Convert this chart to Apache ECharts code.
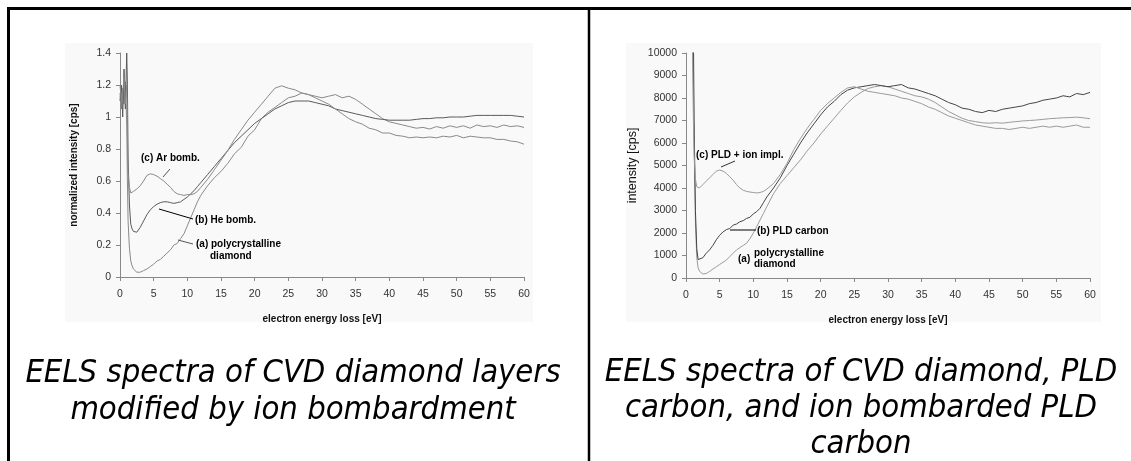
<!DOCTYPE html>
<html>
<head>
<meta charset="utf-8">
<script src="https://cdn.jsdelivr.net/npm/echarts@6/dist/echarts.min.js"></script>
<style>
  html, body { margin: 0; padding: 0; background: #fff; }
  #main { width: 1131px; height: 461px; }
</style>
</head>
<body>
<div id="main"></div>
<script>
// energy loss axis values (eV), left panel
var xLeft = [0, 0.2, 0.4, 0.6, 0.8, 1.0, 1.1, 1.2, 1.4, 1.6, 1.8, 2.0,
  2.5, 3, 3.5, 4, 4.5, 5, 5.5, 6, 6.5, 7, 7.5, 8, 8.5, 9, 9.5, 10, 10.5, 11, 11.5, 12,
  13, 14, 15, 16, 17, 18, 19, 20, 21, 22, 23, 24, 25, 26, 27, 28, 29, 30,
  31, 32, 33, 34, 35, 36, 37, 38, 39, 40, 41, 42, 43, 44, 45, 46, 47, 48, 49, 50,
  51, 52, 53, 54, 55, 56, 57, 58, 59, 60];

// (a) polycrystalline diamond
var leftA = [1.15, 1.05, 1.18, 1.08, 1.22, 0.95, 0.6, 0.35, 0.18, 0.1, 0.07, 0.05,
  0.03, 0.03, 0.04, 0.05, 0.065, 0.08, 0.1, 0.11, 0.13, 0.15, 0.17, 0.2, 0.21, 0.24, 0.27, 0.32, 0.37, 0.42, 0.47, 0.51,
  0.57, 0.62, 0.66, 0.71, 0.77, 0.81, 0.88, 0.92, 0.99, 1.03, 1.06, 1.09, 1.12, 1.13, 1.15, 1.14, 1.13, 1.12,
  1.13, 1.14, 1.12, 1.13, 1.11, 1.08, 1.05, 1.02, 0.99, 0.97, 0.96, 0.95, 0.94, 0.93, 0.935, 0.925, 0.94, 0.93, 0.945, 0.935,
  0.945, 0.93, 0.95, 0.94, 0.945, 0.935, 0.95, 0.94, 0.945, 0.935];

// (b) He bomb.
var leftB = [1.1, 1.2, 1.0, 1.3, 1.05, 1.4, 1.2, 0.75, 0.45, 0.33, 0.3, 0.285,
  0.28, 0.31, 0.35, 0.39, 0.42, 0.44, 0.455, 0.465, 0.47, 0.47, 0.465, 0.46, 0.465, 0.47, 0.485, 0.5, 0.52, 0.54, 0.565, 0.59,
  0.64, 0.69, 0.74, 0.79, 0.84, 0.88, 0.92, 0.96, 0.99, 1.02, 1.05, 1.07, 1.09, 1.1, 1.1, 1.1, 1.09, 1.08,
  1.07, 1.05, 1.04, 1.03, 1.02, 1.01, 1.0, 0.99, 0.985, 0.98, 0.98, 0.98, 0.98, 0.985, 0.99, 0.99, 0.995, 0.995, 1.0, 1.0,
  1.0, 1.005, 1.01, 1.01, 1.01, 1.01, 1.01, 1.01, 1.005, 1.0];

// (c) Ar bomb.
var leftC = [1.2, 1.1, 1.15, 1.25, 1.08, 1.2, 0.9, 0.65, 0.56, 0.525, 0.53, 0.535,
  0.55, 0.57, 0.6, 0.635, 0.645, 0.64, 0.63, 0.615, 0.6, 0.58, 0.56, 0.535, 0.52, 0.515, 0.51, 0.515, 0.515, 0.52, 0.535, 0.56,
  0.61, 0.67, 0.73, 0.79, 0.86, 0.92, 0.98, 1.03, 1.08, 1.13, 1.18, 1.195, 1.18, 1.17, 1.15, 1.14, 1.12, 1.1,
  1.08, 1.05, 1.02, 0.99, 0.97, 0.955, 0.93, 0.92, 0.9, 0.9, 0.885, 0.88, 0.87, 0.875, 0.87, 0.875, 0.87, 0.88, 0.875, 0.885,
  0.87, 0.88, 0.875, 0.87, 0.87, 0.86, 0.86, 0.85, 0.845, 0.83];

// energy loss axis values (eV), right panel
var xRight = [0.9, 1.0, 1.1, 1.2, 1.4, 1.6, 1.8, 2.0,
  2.5, 3, 3.5, 4, 4.5, 5, 5.5, 6, 6.5, 7, 7.5, 8, 8.5, 9, 9.5, 10, 10.5, 11, 11.5, 12,
  13, 14, 15, 16, 17, 18, 19, 20, 21, 22, 23, 24, 25, 26, 27, 28, 29, 30,
  31, 32, 33, 34, 35, 36, 37, 38, 39, 40, 41, 42, 43, 44, 45, 46, 47, 48, 49, 50,
  51, 52, 53, 54, 55, 56, 57, 58, 59, 60];

// (a) polycrystalline diamond
var rightA = [11000, 11000, 9000, 6000, 2500, 900, 450, 300,
  180, 200, 290, 400, 500, 600, 700, 800, 950, 1100, 1250, 1350, 1450, 1550, 1750, 2000, 2280, 2580, 2870, 3170,
  3750, 4200, 4550, 4900, 5250, 5650, 6000, 6400, 6750, 7100, 7450, 7780, 8050, 8250, 8420, 8500, 8550, 8500,
  8400, 8300, 8200, 8100, 8050, 7950, 7800, 7600, 7400, 7250, 7100, 7000, 6950, 6900, 6880, 6900, 6880, 6920, 6950, 6980,
  7000, 7020, 7050, 7080, 7100, 7120, 7130, 7150, 7120, 7080];

// (b) PLD carbon
var rightB = [12000, 12000, 11000, 7000, 3000, 1300, 820, 780,
  900, 1100, 1250, 1450, 1700, 1900, 2050, 2150, 2200, 2350, 2400, 2500, 2550, 2650, 2700, 2850, 2950, 3100, 3350, 3600,
  4000, 4450, 5000, 5500, 6000, 6450, 6850, 7250, 7600, 7850, 8150, 8350, 8450, 8500, 8550, 8600, 8550, 8500,
  8550, 8600, 8450, 8400, 8300, 8200, 8100, 7950, 7800, 7700, 7550, 7500, 7400, 7350, 7450, 7400, 7500, 7550, 7600, 7650,
  7750, 7800, 7900, 7950, 8000, 8100, 8050, 8200, 8150, 8250];

// (c) PLD + ion impl.
var rightC = [12000, 9000, 7000, 5500, 4400, 4050, 3980, 4000,
  4150, 4300, 4450, 4600, 4750, 4800, 4750, 4650, 4500, 4350, 4150, 4000, 3900, 3850, 3820, 3800, 3780, 3800, 3850, 3950,
  4200, 4600, 5100, 5700, 6200, 6650, 7050, 7450, 7750, 8000, 8250, 8450, 8500, 8400, 8300, 8250, 8200, 8150,
  8100, 8000, 7950, 7850, 7750, 7600, 7500, 7350, 7200, 7100, 7000, 6900, 6800, 6750, 6700, 6650, 6650, 6600, 6650, 6700,
  6650, 6700, 6750, 6700, 6750, 6700, 6750, 6800, 6700, 6700];

function pairs(xs, ys) {
  return xs.map(function (x, i) { return [x, ys[i]]; });
}

var chart = echarts.init(document.getElementById('main'));

var tickFont = { color: '#333', fontSize: 10.5, fontFamily: 'Liberation Sans, Arial, sans-serif' };
var nameFont = { color: '#111', fontSize: 10, fontWeight: 'bold', fontFamily: 'Liberation Sans, Arial, sans-serif' };
var axisGrey = { lineStyle: { color: '#888', width: 1 } };

function xAxisFor(idx) {
  return {
    type: 'value', gridIndex: idx, min: 0, max: 60, interval: 5,
    name: 'electron energy loss [eV]', nameLocation: 'middle', nameGap: 37,
    nameTextStyle: nameFont,
    axisLine: axisGrey, axisTick: { lineStyle: { color: '#888' }, length: 4 },
    axisLabel: Object.assign({ margin: 12 }, tickFont),
    splitLine: { show: false }
  };
}

function lineSeries(name, xi, data, color) {
  return {
    name: name, type: 'line', xAxisIndex: xi, yAxisIndex: xi,
    data: data, showSymbol: false, symbol: 'none',
    lineStyle: { color: color, width: 1 }, clip: true
  };
}

var annoFont = 'bold 10px "Liberation Sans", Arial, sans-serif';
function label(x, y, text) {
  return { type: 'text', x: x, y: y, z: 100, style: { text: text, font: annoFont, fill: '#000', textVerticalAlign: 'middle' } };
}
function leader(x1, y1, x2, y2, color) {
  return { type: 'line', z: 100, shape: { x1: x1, y1: y1, x2: x2, y2: y2 }, style: { stroke: color, lineWidth: 1 } };
}

var captionFont = 'italic 32.5px "DejaVu Sans Condensed", "DejaVu Sans", Verdana, sans-serif';

var option = {
  animation: false,
  backgroundColor: '#fff',
  grid: [
    { left: 120, top: 53, width: 404, height: 224 },
    { left: 686, top: 53, width: 404, height: 225 }
  ],
  xAxis: [xAxisFor(0), xAxisFor(1)],
  yAxis: [
    {
      type: 'value', gridIndex: 0, min: 0, max: 1.4, interval: 0.2,
      name: 'normalized intensity [cps]', nameLocation: 'middle', nameGap: 41,
      nameTextStyle: nameFont,
      axisLine: { show: true, lineStyle: { color: '#888' } },
      axisTick: { show: true, lineStyle: { color: '#888' }, length: 4 },
      axisLabel: Object.assign({ margin: 9 }, tickFont),
      splitLine: { show: false }
    },
    {
      type: 'value', gridIndex: 1, min: 0, max: 10000, interval: 1000,
      name: 'intensity [cps]', nameLocation: 'middle', nameGap: 47,
      nameTextStyle: { color: '#111', fontSize: 12.5, fontFamily: 'Liberation Sans, Arial, sans-serif' },
      axisLine: { show: true, lineStyle: { color: '#888' } },
      axisTick: { show: true, lineStyle: { color: '#888' }, length: 4 },
      axisLabel: Object.assign({ margin: 9, formatter: function (v) { return String(v); } }, tickFont),
      splitLine: { show: false }
    }
  ],
  series: [
    lineSeries('(a) polycrystalline diamond', 0, pairs(xLeft, leftA), '#8a8a8a'),
    lineSeries('(b) He bomb.', 0, pairs(xLeft, leftB), '#5a5a5a'),
    lineSeries('(c) Ar bomb.', 0, pairs(xLeft, leftC), '#8a8a8a'),
    lineSeries('(a) polycrystalline diamond', 1, pairs(xRight, rightA), '#9a9a9a'),
    lineSeries('(b) PLD carbon', 1, pairs(xRight, rightB), '#454545'),
    lineSeries('(c) PLD + ion impl.', 1, pairs(xRight, rightC), '#9a9a9a')
  ],
  graphic: [
    // picture backgrounds
    { type: 'rect', z: -10, shape: { x: 65, y: 43, width: 468, height: 279 }, style: { fill: '#f9f9f9' } },
    { type: 'rect', z: -10, shape: { x: 626, y: 43, width: 475, height: 279 }, style: { fill: '#f9f9f9' } },
    // table frame
    { type: 'line', z: 50, shape: { x1: 7, y1: 8.5, x2: 1131, y2: 8.5 }, style: { stroke: '#000', lineWidth: 3 } },
    { type: 'line', z: 50, shape: { x1: 8.5, y1: 7, x2: 8.5, y2: 461 }, style: { stroke: '#000', lineWidth: 3 } },
    { type: 'line', z: 50, shape: { x1: 589, y1: 7, x2: 589, y2: 461 }, style: { stroke: '#000', lineWidth: 2.5 } },
    // left annotations
    label(141, 158, '(c) Ar bomb.'),
    leader(170, 169, 163, 177, '#555'),
    label(195, 220, '(b) He bomb.'),
    leader(159, 209, 193, 219, '#000'),
    label(196, 244, '(a) polycrystalline'),
    label(210, 256, 'diamond'),
    leader(178, 240, 193, 244, '#555'),
    // right annotations
    label(696, 155, '(c) PLD + ion impl.'),
    leader(721, 167, 735, 161, '#333'),
    label(757, 231, '(b) PLD carbon'),
    leader(730, 230, 756, 230, '#000'),
    label(738, 259, '(a)'),
    label(754, 253, 'polycrystalline'),
    label(754, 264, 'diamond'),
    // captions
    { type: 'text', x: 293, y: 355, z: 100, style: { text: 'EELS spectra of CVD diamond layers\nmodified by ion bombardment', font: captionFont, fill: '#000', textAlign: 'center', lineHeight: 37 } },
    { type: 'text', x: 861, y: 355, z: 100, style: { text: 'EELS spectra of CVD diamond, PLD\ncarbon, and ion bombarded PLD\ncarbon', font: captionFont, fill: '#000', textAlign: 'center', lineHeight: 36 } }
  ]
};

chart.setOption(option);
</script>
</body>
</html>
